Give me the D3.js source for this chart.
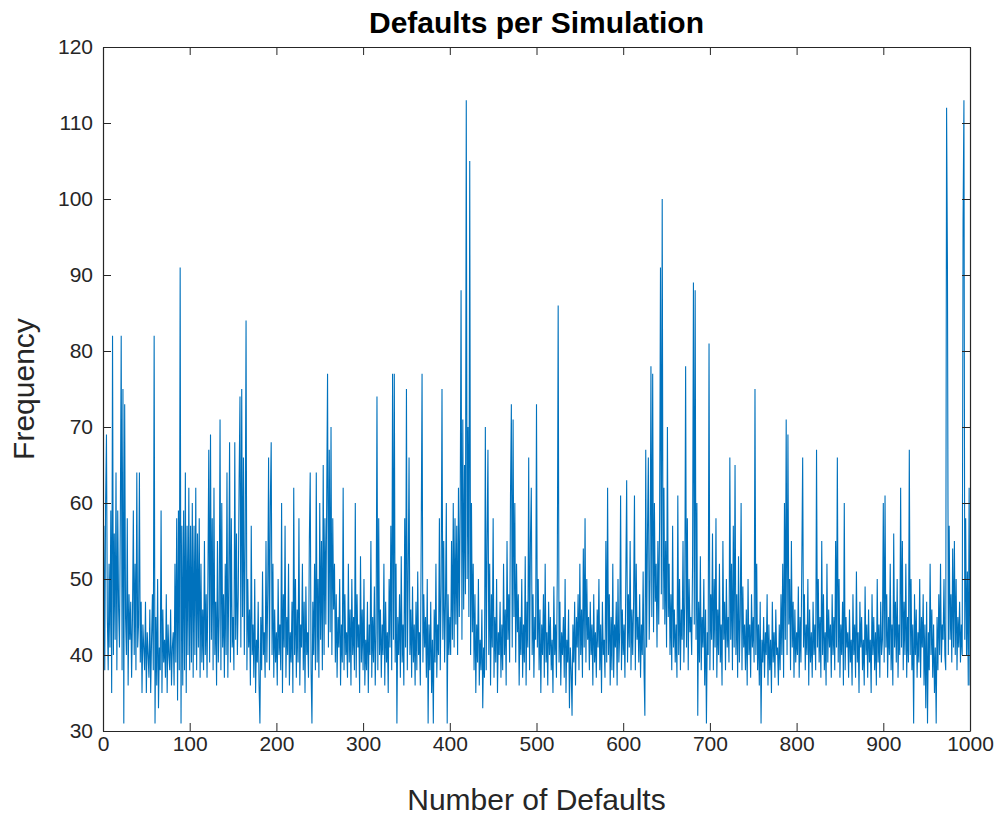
<!DOCTYPE html>
<html>
<head>
<meta charset="UTF-8">
<title>Defaults per Simulation</title>
<style>
  body { margin: 0; background: #fff; }
  svg { display: block; font-family: "Liberation Sans", Arial, Helvetica, sans-serif; }
  .tick text { fill: #262626; font-size: 21px; }
  .tick line { stroke: #262626; }
  .domain { stroke: #262626; }
</style>
</head>
<body>
<svg></svg>
<script src="https://d3js.org/d3.v7.min.js"></script>
<script>

let width = 1002, height = 816;

// axis settings
let xDomain = [0, 1000], yDomain = [30, 120];
let xTicks = [0, 100, 200, 300, 400, 500, 600, 700, 800, 900, 1000];
let yTicks = [30, 40, 50, 60, 70, 80, 90, 100, 110, 120];

// frequency per simulation (one value per simulation, 1..1000)
let frequency = [
  57,38,60,69,45,38,52,41,59,35,82,40,56,42,64,38,59,46,41,58,
  82,38,75,31,73,45,40,58,36,48,42,47,37,45,59,40,52,38,64,41,
  44,64,39,47,35,44,41,38,47,35,43,40,37,46,35,42,48,38,82,31,
  45,36,50,33,41,38,59,35,46,39,42,37,48,35,44,40,38,46,36,41,
  43,36,52,39,58,34,59,38,91,31,57,36,59,38,64,35,57,40,62,38,
  57,39,60,37,57,40,62,38,56,41,58,37,52,39,46,38,55,40,48,37,
  50,67,39,69,42,58,38,62,40,47,36,55,39,45,71,38,60,41,48,37,
  52,40,64,37,49,68,39,58,41,45,38,68,42,56,40,48,63,74,41,75,
  45,66,40,55,84,38,50,41,46,36,57,40,44,37,50,35,42,39,47,36,
  31,45,38,51,40,43,37,55,39,48,66,38,60,68,40,52,37,46,39,43,
  36,50,40,44,38,60,35,48,41,57,37,45,40,52,36,43,39,47,35,62,
  40,50,37,46,39,58,36,44,41,52,38,47,35,49,40,43,37,55,64,38,
  31,47,40,52,38,64,39,50,37,60,42,55,38,65,40,58,44,60,77,41,
  67,43,70,40,58,46,52,39,48,37,45,41,50,36,44,39,62,38,48,40,
  43,37,52,39,46,36,50,40,45,38,60,37,48,41,44,35,53,39,46,38,
  50,36,42,38,47,35,44,40,55,37,45,39,49,36,43,74,38,58,40,46,
  37,44,40,52,36,47,39,43,35,50,41,57,38,77,42,77,39,52,31,45,
  40,48,37,53,39,44,36,58,41,75,38,50,66,40,46,37,49,39,44,36,
  47,38,51,40,43,36,55,77,39,48,41,45,37,50,31,44,38,47,35,42,
  31,46,39,52,37,44,40,58,38,49,75,42,55,39,47,60,31,48,40,45,
  40,55,42,60,41,58,44,57,40,62,45,59,88,42,71,46,65,48,113,50,
  70,45,105,40,60,43,52,38,48,35,44,39,50,36,42,38,46,33,41,37,
  70,38,55,67,40,52,36,48,41,58,37,45,39,50,35,43,40,47,37,44,
  38,52,40,46,36,55,42,48,39,61,73,41,71,45,60,39,52,43,48,36,
  45,40,50,37,44,39,53,36,47,41,66,38,55,62,40,48,37,45,42,73,
  41,50,38,46,35,44,40,48,37,52,39,43,36,47,40,45,38,42,35,49,
  40,44,37,51,86,39,47,36,43,40,45,37,50,35,42,39,46,33,41,38,
  32,44,39,47,36,45,41,48,38,52,40,46,37,54,41,58,39,50,42,45,
  38,47,40,44,36,48,39,43,37,46,41,50,38,44,35,47,40,42,37,55,
  39,62,40,48,36,45,38,52,37,44,41,47,36,50,39,43,61,38,46,40,
  44,37,50,63,39,48,41,55,38,46,40,47,61,38,52,42,45,39,48,37,
  44,40,51,38,32,67,41,56,66,42,50,78,45,77,43,60,47,52,41,55,
  44,58,91,48,100,46,62,44,55,41,70,45,52,40,48,38,57,41,46,39,
  44,37,61,40,50,38,46,42,55,39,47,78,41,58,38,50,43,45,40,52,
  89,44,88,42,60,32,47,39,53,38,45,41,50,36,46,31,43,40,81,38,
  48,42,56,38,50,41,58,37,46,40,52,39,44,36,55,42,47,38,50,41,
  45,39,66,42,52,38,57,41,65,40,48,37,53,39,45,60,38,49,41,44,
  38,46,36,50,40,44,37,48,41,45,39,75,40,52,38,44,36,47,31,42,
  39,45,37,43,40,48,36,44,38,42,35,47,39,43,37,46,40,41,36,44,
  38,48,40,52,37,60,42,71,40,69,44,50,38,55,41,47,37,46,39,43,
  40,49,37,45,39,52,66,41,48,38,44,40,50,36,46,39,43,37,47,40,
  44,38,67,41,50,39,45,37,55,40,48,38,43,36,52,39,46,41,44,37,
  48,40,45,38,55,41,66,39,50,37,44,40,47,36,60,38,45,41,43,37,
  46,39,42,36,48,40,44,37,51,39,43,35,47,41,45,38,42,36,49,40,
  44,37,46,39,42,35,48,40,45,38,43,36,50,39,44,37,47,40,42,60,
  39,61,41,48,37,45,40,52,38,44,36,56,41,47,39,50,37,44,40,62,
  41,55,38,47,40,52,37,45,39,67,40,50,38,44,31,48,40,46,37,43,
  39,50,37,45,41,48,36,44,33,47,31,43,38,52,40,46,37,44,35,41,
  31,45,38,48,40,52,39,44,42,50,40,38,112,91,40,57,42,48,39,54,
  41,55,40,50,38,45,41,47,39,44,40,97,113,42,58,40,51,36,62,36
];

let margin = { top: 47, right: 32, bottom: 85, left: 103 };
let innerW = width - margin.left - margin.right;
let innerH = height - margin.top - margin.bottom;

let svg = d3.select("svg")
  .attr("width", width)
  .attr("height", height);

let g = svg.append("g")
  .attr("transform", `translate(${margin.left},${margin.top})`);

let x = d3.scaleLinear().domain(xDomain).range([0, innerW]);
let y = d3.scaleLinear().domain(yDomain).range([innerH, 0]);

// the line
let line = d3.line()
  .x((d, i) => x(i + 1))
  .y(d => y(d));

g.append("path")
  .datum(frequency)
  .attr("fill", "none")
  .attr("stroke", "#0072BD")
  .attr("stroke-width", 1.1)
  .attr("d", line);

// axes, ticks pointing inward like matlab
let tickLen = 8;
g.append("g")
  .attr("transform", `translate(0,${innerH})`)
  .call(d3.axisBottom(x).tickValues(xTicks).tickFormat(d3.format("d"))
    .tickSize(-tickLen).tickPadding(5).tickSizeOuter(0));
g.append("g")
  .call(d3.axisLeft(y).tickValues(yTicks).tickSize(-tickLen).tickPadding(10).tickSizeOuter(0));
g.append("g")
  .call(d3.axisTop(x).tickValues(xTicks).tickSize(-tickLen).tickFormat("").tickSizeOuter(0));
g.append("g")
  .attr("transform", `translate(${innerW},0)`)
  .call(d3.axisRight(y).tickValues(yTicks).tickSize(-tickLen).tickFormat("").tickSizeOuter(0));

g.selectAll(".domain").attr("stroke-width", 1.2);

// labels
svg.append("text")
  .attr("x", margin.left + innerW / 2)
  .attr("y", 33)
  .attr("text-anchor", "middle")
  .attr("font-size", "30px")
  .attr("font-weight", "bold")
  .attr("fill", "#000")
  .text("Defaults per Simulation");

svg.append("text")
  .attr("x", margin.left + innerW / 2)
  .attr("y", 810)
  .attr("text-anchor", "middle")
  .attr("font-size", "30px")
  .attr("fill", "#262626")
  .text("Number of Defaults");

svg.append("text")
  .attr("transform", `translate(34,${margin.top + innerH / 2}) rotate(-90)`)
  .attr("text-anchor", "middle")
  .attr("font-size", "30px")
  .attr("fill", "#262626")
  .text("Frequency");

</script>
</body>
</html>
